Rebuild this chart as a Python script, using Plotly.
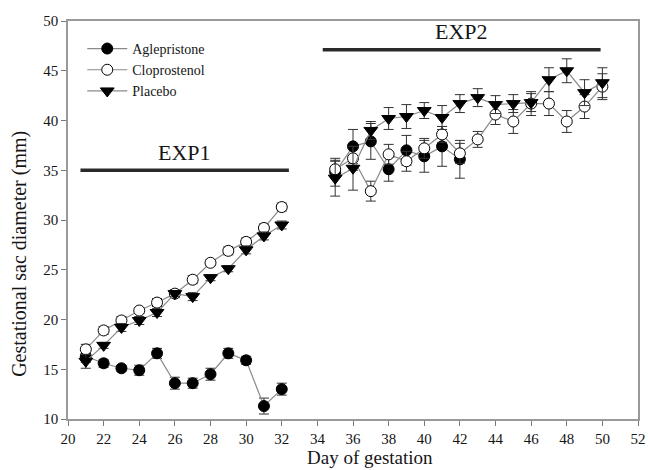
import plotly.graph_objects as go

# ---- data ----
days_exp1 = [21, 22, 23, 24, 25, 26, 27, 28, 29, 30, 31, 32]
days_exp2_agle = [35, 36, 37, 38, 39, 40, 41, 42]
days_exp2 = [35, 36, 37, 38, 39, 40, 41, 42, 43, 44, 45, 46, 47, 48, 49, 50]

agle_exp1 = [16.3, 15.6, 15.1, 14.9, 16.6, 13.6, 13.6, 14.5, 16.6, 15.9, 11.3, 13.0]
agle_exp1_err = [0.6, 0.4, 0.3, 0.5, 0.5, 0.6, 0.5, 0.6, 0.5, 0.4, 0.8, 0.6]
agle_exp2 = [34.8, 37.4, 37.9, 35.1, 37.0, 36.4, 37.4, 36.1]
agle_exp2_err = [1.4, 1.7, 1.8, 1.2, 1.5, 1.6, 2.0, 1.9]

clop_exp1 = [17.0, 18.9, 19.9, 20.9, 21.7, 22.6, 24.0, 25.7, 26.9, 27.8, 29.2, 31.3]
clop_exp1_err = [0.5, 0.4, 0.4, 0.3, 0.4, 0.4, 0.4, 0.3, 0.4, 0.4, 0.4, 0.4]
clop_exp2 = [35.1, 36.2, 32.9, 36.6, 35.9, 37.2, 38.6, 36.7, 38.1, 40.6, 39.9, 41.7,
             41.7, 39.9, 41.4, 43.4]
clop_exp2_err = [0.8, 1.2, 1.0, 1.0, 1.0, 1.0, 0.8, 1.0, 0.8, 1.0, 1.2, 1.2,
                 1.2, 1.1, 1.2, 1.3]

plac_exp1 = [15.8, 17.4, 19.2, 19.9, 20.7, 22.6, 22.3, 24.2, 25.1, 27.0, 28.4, 29.5]
plac_exp1_err = [0.7, 0.3, 0.4, 0.4, 0.4, 0.3, 0.4, 0.3, 0.3, 0.4, 0.4, 0.4]
plac_exp2 = [34.2, 35.2, 39.0, 40.2, 40.4, 41.0, 40.3, 41.7, 42.3, 41.6, 41.7, 41.8,
             44.1, 45.0, 42.8, 43.8]
plac_exp2_err = [1.8, 2.2, 0.9, 1.1, 1.2, 0.8, 1.2, 0.9, 0.9, 0.9, 0.9, 0.9,
                 1.2, 1.2, 1.3, 1.5]

series_names = ["Aglepristone", "Cloprostenol", "Placebo"]
exp_labels = ["EXP1", "EXP2"]
exp_bars = [(20.7, 32.4, 35.0), (34.3, 49.9, 47.1)]
x_title = "Day of gestation"
y_title = "Gestational sac diameter (mm)"

FONT = "Liberation Serif, Times New Roman, serif"
LINE_C = "#8a8a8a"
TXT = "#151515"

fig = go.Figure()

specs = [
    (series_names[0], [(days_exp1, agle_exp1, agle_exp1_err), (days_exp2_agle, agle_exp2, agle_exp2_err)],
     dict(symbol="circle", color="black", size=11, line=dict(color="black", width=1))),
    (series_names[1], [(days_exp1, clop_exp1, clop_exp1_err), (days_exp2, clop_exp2, clop_exp2_err)],
     dict(symbol="circle", color="white", size=11, line=dict(color="black", width=1))),
    (series_names[2], [(days_exp1, plac_exp1, plac_exp1_err), (days_exp2, plac_exp2, plac_exp2_err)],
     dict(symbol="triangle-down", color="black", size=12, line=dict(color="black", width=1))),
]

for name, parts, marker in specs:
    for i, (xs, ys, es) in enumerate(parts):
        fig.add_trace(go.Scatter(
            x=xs, y=ys, name=name, legendgroup=name, showlegend=(i == 0),
            mode="lines+markers",
            line=dict(color=LINE_C, width=1.2),
            marker=marker,
            error_y=dict(type="data", array=es, color="#333333", thickness=1, width=5),
        ))

for (x0, x1, yv), lab in zip(exp_bars, exp_labels):
    fig.add_shape(type="line", x0=x0, x1=x1, y0=yv, y1=yv, xref="x", yref="y",
                  line=dict(color="#2a2a2a", width=3.5))
    fig.add_annotation(x=(x0 + x1) / 2, y=yv, text=lab, showarrow=False,
                       yshift=18, font=dict(family=FONT, size=22, color=TXT),
                       xref="x", yref="y")

# axis titles placed as annotations for exact position
fig.add_annotation(text=x_title, xref="paper", yref="paper", x=0.53, y=0,
                   yshift=-38, yanchor="middle", showarrow=False,
                   font=dict(family=FONT, size=19, color=TXT))
fig.add_annotation(text=y_title, xref="paper", yref="paper", x=0, y=0.415,
                   xshift=-48, xanchor="center", yanchor="middle", textangle=-90,
                   showarrow=False, font=dict(family=FONT, size=20, color=TXT))

fig.update_layout(
    width=648, height=470,
    margin=dict(l=68, r=10, t=21, b=51),
    plot_bgcolor="white", paper_bgcolor="white",
    font=dict(family=FONT, size=15, color=TXT),
    showlegend=True,
    legend=dict(x=0.025, y=0.97, xanchor="left", yanchor="top",
                bgcolor="rgba(0,0,0,0)", font=dict(family=FONT, size=14, color=TXT),
                itemwidth=40, tracegroupgap=0),
)
fig.update_xaxes(range=[20, 52], tickmode="linear", tick0=20, dtick=2,
                 showline=True, linecolor="#999", linewidth=1.5, mirror=True,
                 ticks="outside", ticklen=5, tickcolor="#777", showgrid=False, zeroline=False,
                 automargin=False, tickfont=dict(family=FONT, size=15))
fig.update_yaxes(range=[10, 50], tickmode="linear", tick0=10, dtick=5,
                 showline=True, linecolor="#999", linewidth=1.5, mirror=True,
                 ticks="outside", ticklen=5, tickcolor="#777", showgrid=False, zeroline=False,
                 automargin=False, tickfont=dict(family=FONT, size=15))

fig.write_html("out.html", config={"displayModeBar": False},
               post_script="document.body.style.margin='0';document.body.style.overflow='hidden';")
